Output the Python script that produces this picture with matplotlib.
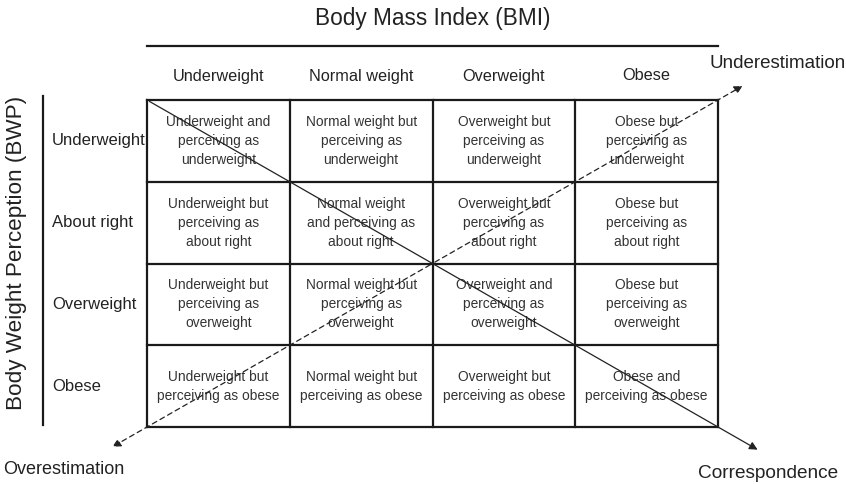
import matplotlib.pyplot as plt

plt.rcParams['font.family'] = ['Liberation Sans', 'DejaVu Sans']

# Категории
bmi_categories = ['Underweight', 'Normal weight', 'Overweight', 'Obese']
bwp_categories = ['Underweight', 'About right', 'Overweight', 'Obese']

# Тексты ячеек (строка = восприятие, столбец = ИМТ)
cell_texts = [
    ['Underweight and\nperceiving as\nunderweight', 'Normal weight but\nperceiving as\nunderweight',
     'Overweight but\nperceiving as\nunderweight', 'Obese but\nperceiving as\nunderweight'],
    ['Underweight but\nperceiving as\nabout right', 'Normal weight\nand perceiving as\nabout right',
     'Overweight but\nperceiving as\nabout right', 'Obese but\nperceiving as\nabout right'],
    ['Underweight but\nperceiving as\noverweight', 'Normal weight but\nperceiving as\noverweight',
     'Overweight and\nperceiving as\noverweight', 'Obese but\nperceiving as\noverweight'],
    ['Underweight but\nperceiving as obese', 'Normal weight but\nperceiving as obese',
     'Overweight but\nperceiving as obese', 'Obese and\nperceiving as obese'],
]

# Геометрия сетки (в пикселях)
x0, y0 = 147, 100
cw, ch = 142.75, 81.75
ncol, nrow = len(bmi_categories), len(bwp_categories)
x1, y1 = x0 + ncol * cw, y0 + nrow * ch

fig = plt.figure(figsize=(8.46, 4.84), dpi=100)
ax = fig.add_axes([0, 0, 1, 1])
ax.set_xlim(0, 846)
ax.set_ylim(484, 0)
ax.axis('off')

# Сетка
for i in range(ncol + 1):
    ax.plot([x0 + i * cw] * 2, [y0, y1], color='#1a1a1a', lw=1.6, solid_capstyle='projecting')
for j in range(nrow + 1):
    ax.plot([x0, x1], [y0 + j * ch] * 2, color='#1a1a1a', lw=1.6, solid_capstyle='projecting')

# Тексты ячеек
for r in range(nrow):
    for c in range(ncol):
        ax.text(x0 + (c + 0.5) * cw, y0 + (r + 0.5) * ch, cell_texts[r][c],
                ha='center', va='center', fontsize=9.9, color='#333333', linespacing=1.45)

# Заголовки столбцов
for c, name in enumerate(bmi_categories):
    ax.text(x0 + (c + 0.5) * cw, 76, name, ha='center', va='center', fontsize=11.7, color='#222222')

# Заголовки строк
for r, name in enumerate(bwp_categories):
    ax.text(52, y0 + (r + 0.5) * ch, name, ha='left', va='center', fontsize=12, color='#222222')

# Верхняя линия и заголовок
ax.plot([x0, x1], [46, 46], color='#1a1a1a', lw=1.6)
ax.text((x0 + x1) / 2, 18, 'Body Mass Index (BMI)', ha='center', va='center', fontsize=16.3, color='#222222')

# Левая линия и подпись оси
ax.plot([43, 43], [96, 425], color='#1a1a1a', lw=1.6)
ax.text(17, 253, 'Body Weight Perception (BWP)', ha='center', va='center', rotation=90,
        fontsize=16.2, color='#222222')

# Диагональ соответствия (сплошная)
slope = (y1 - y0) / (x1 - x0)
ax.annotate('', xy=(760, y0 + (760 - x0) * slope), xytext=(x0, y0),
            arrowprops=dict(arrowstyle='-|>', color='#222222', lw=0.9, mutation_scale=12))

# Диагональ недо/переоценки (пунктир)
ax.annotate('', xy=(745, y0 - (745 - x1) * slope), xytext=((x0 + x1) / 2, (y0 + y1) / 2),
            arrowprops=dict(arrowstyle='-|>', color='#222222', lw=0.9, ls=(0, (4, 3)), mutation_scale=12))
ax.annotate('', xy=(110, y1 + (x0 - 110) * slope), xytext=((x0 + x1) / 2, (y0 + y1) / 2),
            arrowprops=dict(arrowstyle='-|>', color='#222222', lw=0.9, ls=(0, (4, 3)), mutation_scale=12))

ax.text(778, 63, 'Underestimation', ha='center', va='center', fontsize=13.5, color='#222222')
ax.text(64, 470, 'Overestimation', ha='center', va='center', fontsize=13, color='#222222')
ax.text(768, 473, 'Correspondence', ha='center', va='center', fontsize=13.7, color='#222222')

fig.savefig('out.png', dpi=100)
